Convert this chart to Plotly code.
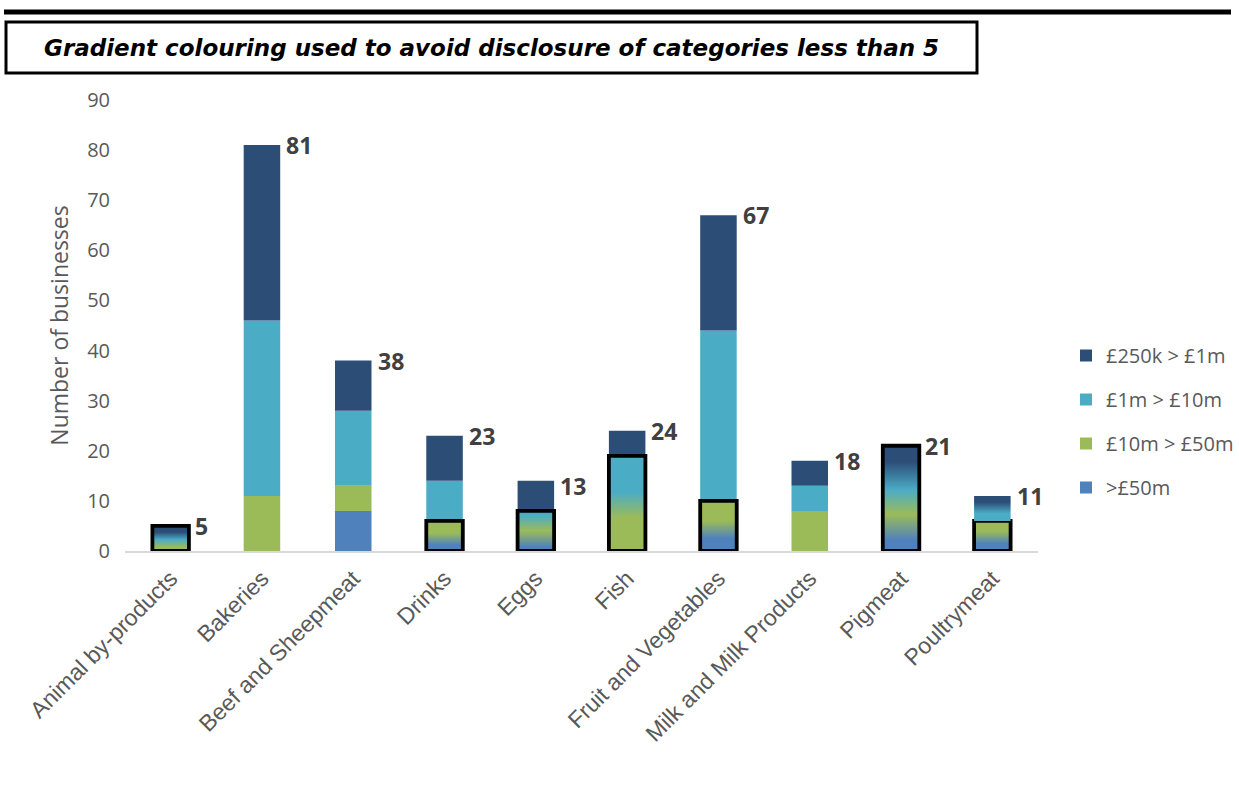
import plotly.graph_objects as go

# ---------------- data ----------------
categories = ["Animal by-products", "Bakeries", "Beef and Sheepmeat", "Drinks", "Eggs",
              "Fish", "Fruit and Vegetables", "Milk and Milk Products", "Pigmeat", "Poultrymeat"]
totals = [5, 81, 38, 23, 13, 24, 67, 18, 21, 11]

series_names = [">£50m", "£10m > £50m", "£1m > £10m", "£250k > £1m"]   # bottom -> top
over_50m   = [0, 0, 8, 0, 0, 0, 0, 0, 0, 0]
m10_to_50m = [0, 11, 5, 0, 0, 0, 0, 8, 0, 0]
m1_to_10m  = [0, 35, 15, 8, 0, 0, 34, 5, 0, 0]
k250_to_1m = [0, 35, 10, 9, 6, 5, 23, 5, 0, 0]

# suppressed (gradient-coloured) blocks, stacked from zero
masked_category = ["Animal by-products", "Drinks", "Eggs", "Fish", "Fruit and Vegetables",
                   "Pigmeat", "Poultrymeat", "Poultrymeat"]
masked_size = [5, 6, 8, 19, 10, 21, 6, 5]

# ---------------- styles ----------------
DARK, TEAL, GREEN, BLUE = "#2C4D76", "#4BACC6", "#9BBB59", "#4F81BD"
series_colors = [BLUE, GREEN, TEAL, DARK]
masked_scales = [
    [[0, GREEN], [0.15, GREEN], [0.45, TEAL], [0.75, DARK], [1, DARK]],
    [[0, BLUE], [0.2, BLUE], [0.6, GREEN], [1, GREEN]],
    [[0, BLUE], [0.1, BLUE], [0.5, GREEN], [0.9, TEAL], [1, TEAL]],
    [[0, GREEN], [0.35, GREEN], [0.62, TEAL], [1, TEAL]],
    [[0, BLUE], [0.25, BLUE], [0.6, GREEN], [1, GREEN]],
    [[0, BLUE], [0.1, BLUE], [0.35, GREEN], [0.58, TEAL], [0.85, DARK], [1, DARK]],
    [[0, BLUE], [0.25, BLUE], [0.65, GREEN], [1, GREEN]],
    [[0, TEAL], [0.3, TEAL], [0.75, DARK], [1, DARK]],
]
masked_outline = [True, True, True, True, True, True, True, False]
BAR_W = 0.4
GREY = "#595959"

x_idx = list(range(len(categories)))
series_values = [over_50m, m10_to_50m, m1_to_10m, k250_to_1m]

fig = go.Figure()

# bases of masked blocks
masked_base = {c: 0 for c in categories}
masked_traces = []
for cat, size, scale, outl in zip(masked_category, masked_size, masked_scales, masked_outline):
    i = categories.index(cat)
    b = masked_base[cat]
    t = b + size
    masked_base[cat] = t
    xs = [i - BAR_W / 2, i + BAR_W / 2, i + BAR_W / 2, i - BAR_W / 2, i - BAR_W / 2]
    ys = [b, b, t, t, b]
    masked_traces.append(go.Scatter(
        x=xs, y=ys, mode="lines", fill="toself",
        fillgradient=dict(type="vertical", colorscale=scale, start=b, stop=t),
        line=dict(color="black" if outl else "rgba(0,0,0,0)", width=3.8 if outl else 0),
        showlegend=False, hoverinfo="skip"))

# solid stacked segments (bases computed bottom -> top, legend shown top -> bottom)
cum = [masked_base[c] for c in categories]
bar_traces = []
for k, (name, vals, col) in enumerate(zip(series_names, series_values, series_colors)):
    bar_traces.append(go.Bar(
        x=x_idx, y=vals, base=cum[:], width=BAR_W, name=name,
        marker=dict(color=col, line=dict(width=0)), legendgroup=name,
        legendrank=100 - k))
    cum = [c + v for c, v in zip(cum, vals)]

for tr in bar_traces:
    fig.add_trace(tr)
for tr in masked_traces:
    fig.add_trace(tr)

# data labels
for i, tot in enumerate(totals):
    fig.add_annotation(x=i + BAR_W / 2, y=tot, text=f"<b>{tot}</b>", showarrow=False,
                       xanchor="left", yanchor="middle", xshift=4, yshift=0,
                       font=dict(family="Open Sans", size=23, color="#404040"))

L, R, T, B = 125, 1038, 100, 551
PW, PH = R - L, B - T
def px(x): return (x - L) / PW
def py(y): return (B - y) / PH

# top rule and title box
fig.add_shape(type="line", xref="paper", yref="paper", x0=px(4), x1=px(1231), y0=py(12), y1=py(12),
              line=dict(color="black", width=5))
fig.add_shape(type="rect", xref="paper", yref="paper", x0=px(6), x1=px(977), y0=py(22), y1=py(73),
              line=dict(color="black", width=3), fillcolor="white")
fig.add_annotation(xref="paper", yref="paper", x=px(491), y=py(48), showarrow=False,
                   text="<b><i>Gradient colouring used to avoid disclosure of categories less than 5</i></b>",
                   font=dict(family="DejaVu Sans", size=23, color="black"),
                   xanchor="center", yanchor="middle")

fig.update_layout(
    width=1239, height=807,
    margin=dict(l=L, r=1239 - R, t=T, b=807 - B, pad=0, autoexpand=False),
    paper_bgcolor="white", plot_bgcolor="white",
    barmode="overlay",
    showlegend=True,
    legend=dict(x=px(1066), y=py(336), xanchor="left", yanchor="top",
                traceorder="grouped", tracegroupgap=15,
                font=dict(family="Open Sans", size=20, color=GREY),
                bgcolor="rgba(0,0,0,0)"),
    font=dict(family="Liberation Sans", color=GREY),
)
fig.update_xaxes(
    range=[-0.5, len(categories) - 0.5], tickmode="array", tickvals=x_idx, ticktext=categories,
    tickangle=-45, tickfont=dict(family="Liberation Sans", size=23, color=GREY),
    ticklabelstandoff=3,
    showline=True, linecolor="#D9D9D9", linewidth=2, showgrid=False, zeroline=False, ticks="",
    automargin=False)
fig.update_yaxes(
    range=[0, 90], dtick=10, tick0=0, showgrid=False, zeroline=False, showline=False,
    tickfont=dict(family="Open Sans", size=20, color=GREY), ticklabelstandoff=14,
    automargin=False,
    title=dict(text="Number of businesses", standoff=12,
               font=dict(family="Open Sans", size=23, color=GREY)))

fig.write_html("out.html")
